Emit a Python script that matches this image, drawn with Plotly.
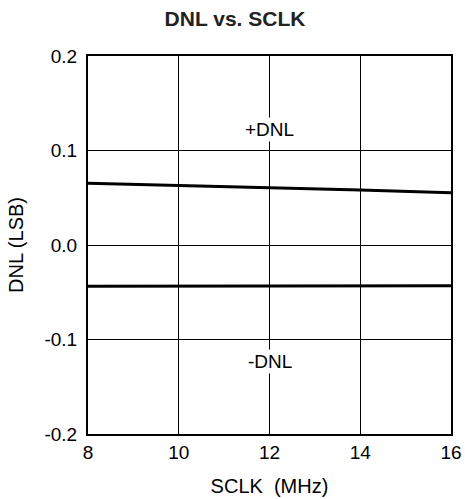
import plotly.graph_objects as go

sclk_mhz = [8, 10, 12, 14, 16]
dnl_pos = [0.0653, 0.0632, 0.0610, 0.0582, 0.0553]
dnl_neg = [-0.0437, -0.0435, -0.0433, -0.0432, -0.0430]

x_ticks = [8, 10, 12, 14, 16]
y_ticks = [-0.2, -0.1, 0.0, 0.1, 0.2]
y_ticklabels = ["-0.2", "-0.1", "0.0", "0.1", "0.2"]

label_pos = ("+DNL", 12, 0.1225)
label_neg = ("-DNL", 12, -0.1235)

FONT = "Liberation Sans, Arial, Helvetica, sans-serif"

fig = go.Figure()
fig.add_trace(go.Scatter(x=sclk_mhz, y=dnl_pos, mode="lines",
                         line=dict(color="black", width=3), showlegend=False))
fig.add_trace(go.Scatter(x=sclk_mhz, y=dnl_neg, mode="lines",
                         line=dict(color="black", width=3), showlegend=False))

for txt, xv, yv in (label_pos, label_neg):
    fig.add_annotation(x=xv, y=yv, text=txt, showarrow=False,
                       font=dict(family=FONT, size=19, color="black"),
                       bgcolor="white", borderpad=1)

W, H = 465, 499
fig.update_layout(
    width=W, height=H,
    margin=dict(l=88, r=14, t=56, b=65, autoexpand=False),
    paper_bgcolor="white", plot_bgcolor="white",
    font=dict(family=FONT, color="black"),
    title=dict(text="<b>DNL vs. SCLK</b>", x=235 / W, xanchor="center",
               y=1 - 19 / H, yanchor="middle", yref="container",
               font=dict(family=FONT, size=21, color="#222222")),
    xaxis=dict(range=[8, 16], tickvals=x_ticks, ticks="", automargin=False,
               tickfont=dict(size=19), showgrid=True, gridcolor="black",
               gridwidth=1, zeroline=False, showline=True, linecolor="black",
               linewidth=2, mirror=True,
               title=dict(text="SCLK&nbsp;&nbsp;(MHz)", font=dict(size=20), standoff=17)),
    yaxis=dict(range=[-0.2, 0.2], tickvals=y_ticks, ticktext=y_ticklabels, ticks="",
               automargin=False, ticklabelstandoff=5,
               tickfont=dict(size=19), showgrid=True, gridcolor="black",
               gridwidth=1, zeroline=False, showline=True, linecolor="black",
               linewidth=2, mirror=True,
               title=dict(text="DNL (LSB)", font=dict(size=20), standoff=15)),
)

fig.write_html("out.html", config={"displayModeBar": False},
               post_script="document.body.style.margin='0';document.body.style.overflow='hidden';")
